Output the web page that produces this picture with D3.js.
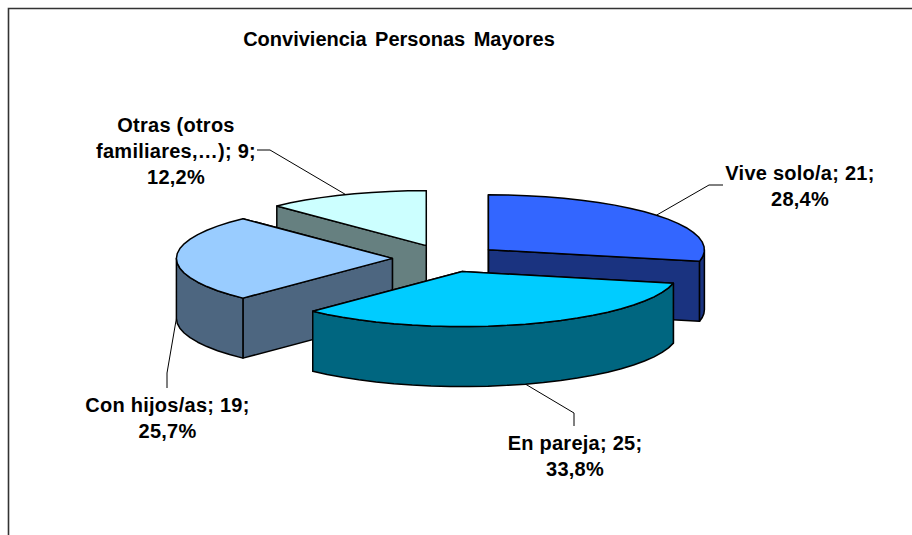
<!DOCTYPE html>
<html><head><meta charset="utf-8">
<style>html,body{margin:0;padding:0;background:#fff}svg{display:block}text{font-family:"Liberation Sans",Arial,sans-serif;font-weight:bold;font-size:20px;fill:#000}</style>
<script src="https://cdn.jsdelivr.net/npm/d3@7"></script>
</head><body><svg width="912" height="535"></svg>
<script>
const categories = ["Vive solo/a", "En pareja", "Con hijos/as", "Otras (otros familiares,…)"];
const values = [21, 25, 19, 9];
const percents = ["28,4%", "33,8%", "25,7%", "12,2%"];
const topColors = ["#3366FF", "#00CCFF", "#99CCFF", "#CCFFFF"];
const sideColors = ["#1A3380", "#006680", "#4D6680", "#668080"];
const labelLines = [
  ["Vive solo/a; 21;", "28,4%"],
  ["En pareja; 25;", "33,8%"],
  ["Con hijos/as; 19;", "25,7%"],
  ["Otras (otros", "familiares,…); 9;", "12,2%"]
];
const labelX = [800, 575, 167.5, 176];
const labelY = [180, 450, 412, 132];
const lineH = 26;
const elbows = [[[709,185],[723,185]], [[574,413],[574,426]], [[167,373],[167,388]], [[270,150],[257,150]]];
const drawOrder = [3, 0, 2, 1];

const cx = 446.4, cy = 258.4, rx = 216, ry = 55, depth = 60, explode = 0.25;
const svg = d3.select("svg");
svg.append("path").attr("d", "M8.5,535V8.5H912").attr("fill","none").attr("stroke","#333").attr("stroke-width",1.6);

const arcs = d3.pie().sort(null).value(d => d)(values);
const line = d3.line();
const pt = (c, a, dz = 0) => [c[0] + rx * Math.sin(a), c[1] - ry * Math.cos(a) + dz];
const arcPts = (c, a0, a1, dz = 0) => {
  const n = Math.max(1, Math.ceil((a1 - a0) / 0.09));
  return d3.range(n + 1).map(i => pt(c, a0 + (a1 - a0) * i / n, dz));
};
const slices = arcs.map((d, i) => {
  const mid = (d.startAngle + d.endAngle) / 2;
  return {d, i, mid, c: [cx + explode * rx * Math.sin(mid), cy - explode * ry * Math.cos(mid)]};
});
const style = (sel, fill) => sel.attr("fill", fill).attr("stroke", "#000").attr("stroke-width", 1.5).attr("stroke-linejoin", "round");

// leader lines beneath the pie
slices.forEach(s => {
  const front = Math.cos(s.mid) < 0 || Math.abs(s.mid - 3*Math.PI/2) < 0.01;
  const a = pt(s.c, s.mid, front ? depth : 0);
  svg.append("path").attr("d", line([a, ...elbows[s.i]])).attr("fill", "none").attr("stroke", "#000").attr("stroke-width", 1);
});

drawOrder.forEach(i => {
  const s = slices[i], c = s.c, a0 = s.d.startAngle, a1 = s.d.endAngle;
  const g = svg.append("g");
  // radial walls
  [a1, a0].forEach(a => {
    const p = pt(c, a), q = pt(c, a, depth);
    style(g.append("path").attr("d", line([c, p, q, [c[0], c[1] + depth]]) + "Z"), sideColors[i]);
  });
  // outer wall: only the part facing the viewer
  const f0 = Math.max(a0, Math.PI / 2), f1 = Math.min(a1, 3 * Math.PI / 2);
  if (f1 > f0) {
    const upper = arcPts(c, f0, f1), lower = arcPts(c, f0, f1, depth).reverse();
    style(g.append("path").attr("d", line([...upper, ...lower]) + "Z"), sideColors[i]);
  }
  // top face
  style(g.append("path").attr("d", line([c, ...arcPts(c, a0, a1)]) + "Z"), topColors[i]);
});

// title and labels
svg.append("text").attr("x", 399).attr("y", 46).attr("text-anchor", "middle").attr("word-spacing", 3).text("Conviviencia Personas Mayores");
labelLines.forEach((ls, i) => {
  const t = svg.append("text").attr("text-anchor", "middle").attr("letter-spacing", 0.25);
  ls.forEach((l, j) => t.append("tspan").attr("x", labelX[i]).attr("y", labelY[i] + j * lineH).text(l));
});
</script></body></html>
